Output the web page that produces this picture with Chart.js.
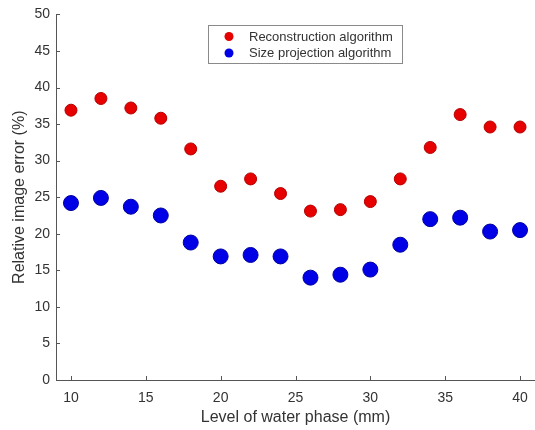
<!DOCTYPE html>
<html>
<head>
<meta charset="utf-8">
<script src="https://cdn.jsdelivr.net/npm/chart.js@4"></script>
<style>
    html, body { margin: 0; padding: 0; background: #fff; }
    #wrap { width: 535px; height: 430px; }
</style>
</head>
<body>
<div id="wrap"><canvas id="errorChart" width="535" height="430"></canvas></div>
<script>
// water phase level (mm)
const levels = [10, 12, 14, 16, 18, 20, 22, 24, 26, 28, 30, 32, 34, 36, 38, 40];
const reconstruction = [36.9, 38.5, 37.2, 35.8, 31.6, 26.5, 27.5, 25.5, 23.1, 23.3, 24.4, 27.5, 31.8, 36.3, 34.6, 34.6];
const sizeProjection = [24.2, 24.9, 23.7, 22.5, 18.8, 16.9, 17.1, 16.9, 14.0, 14.4, 15.1, 18.5, 22.0, 22.2, 20.3, 20.5];
const xTicks = [10, 15, 20, 25, 30, 35, 40];
const yTicks = [0, 5, 10, 15, 20, 25, 30, 35, 40, 45, 50];

const FONT = "'Liberation Sans', Arial, Helvetica, sans-serif";
const TEXT = '#333333';
const AXIS = '#555555';

function toPoints(values) {
    return levels.map((x, i) => ({ x: x, y: values[i] }));
}

// MATLAB-like inward tick marks
const innerTicks = {
    id: 'innerTicks',
    afterDraw(chart) {
        const ctx = chart.ctx;
        const xs = chart.scales.x, ys = chart.scales.y;
        const area = chart.chartArea;
        ctx.save();
        ctx.strokeStyle = AXIS;
        ctx.lineWidth = 1;
        ctx.beginPath();
        xTicks.forEach(v => {
            const px = Math.round(xs.getPixelForValue(v)) + 0.5;
            ctx.moveTo(px, area.bottom);
            ctx.lineTo(px, area.bottom - 4);
        });
        yTicks.forEach(v => {
            const py = Math.round(ys.getPixelForValue(v)) + 0.5;
            ctx.moveTo(area.left, py);
            ctx.lineTo(area.left + 4, py);
        });
        ctx.stroke();
        ctx.restore();
    }
};

// boxed legend inside the plot
const boxLegend = {
    id: 'boxLegend',
    afterDraw(chart) {
        const ctx = chart.ctx;
        const x0 = 208.5, y0 = 25.5, w = 194, h = 38;
        ctx.save();
        ctx.fillStyle = '#ffffff';
        ctx.fillRect(x0, y0, w, h);
        ctx.strokeStyle = '#8a8a8a';
        ctx.lineWidth = 1;
        ctx.strokeRect(x0, y0, w, h);
        ctx.font = '13px ' + FONT;
        ctx.textBaseline = 'middle';
        chart.data.datasets.forEach((ds, i) => {
            const cy = 36.5 + i * 16.5;
            ctx.beginPath();
            ctx.arc(229, cy, 4.5, 0, Math.PI * 2);
            ctx.fillStyle = ds.backgroundColor;
            ctx.fill();
            ctx.fillStyle = TEXT;
            ctx.fillText(ds.label, 249, cy + 0.5);
        });
        ctx.restore();
    }
};

const ctx = document.getElementById('errorChart').getContext('2d');
new Chart(ctx, {
    type: 'scatter',
    data: {
        datasets: [{
            label: 'Reconstruction algorithm',
            data: toPoints(reconstruction),
            backgroundColor: '#e60000',
            borderColor: '#b30000',
            borderWidth: 1,
            pointRadius: 6,
            pointHoverRadius: 6
        }, {
            label: 'Size projection algorithm',
            data: toPoints(sizeProjection),
            backgroundColor: '#0000e6',
            borderColor: '#0000a0',
            borderWidth: 1,
            pointRadius: 7.5,
            pointHoverRadius: 7.5
        }]
    },
    options: {
        responsive: false,
        animation: false,
        layout: { autoPadding: false, padding: { top: 13, right: 0, left: 0, bottom: 0 } },
        plugins: {
            legend: { display: false },
            tooltip: { enabled: false }
        },
        scales: {
            x: {
                type: 'linear',
                min: 9,
                max: 41,
                afterBuildTicks: scale => { scale.ticks = xTicks.map(v => ({ value: v })); },
                afterFit: scale => {
                    scale.height = 50;
                    scale.paddingLeft = 0;
                    scale.paddingRight = 0;
                },
                grid: { display: false, drawTicks: false },
                border: { display: true, color: AXIS, width: 1 },
                ticks: {
                    color: TEXT,
                    font: { family: FONT, size: 14 },
                    padding: 10,
                    maxRotation: 0
                },
                title: {
                    display: true,
                    text: 'Level of water phase (mm)',
                    color: TEXT,
                    font: { family: FONT, size: 16 },
                    padding: { top: 0, bottom: 3 }
                }
            },
            y: {
                min: 0,
                max: 50,
                afterBuildTicks: scale => { scale.ticks = yTicks.map(v => ({ value: v })); },
                afterFit: scale => { scale.width = 56; },
                grid: { display: false, drawTicks: false },
                border: { display: true, color: AXIS, width: 1 },
                ticks: {
                    color: TEXT,
                    font: { family: FONT, size: 14 },
                    padding: 6
                },
                title: {
                    display: true,
                    text: 'Relative image error (%)',
                    color: TEXT,
                    font: { family: FONT, size: 16 },
                    padding: { top: 10, bottom: 0 }
                }
            }
        }
    },
    plugins: [innerTicks, boxLegend]
});
</script>
</body>
</html>
